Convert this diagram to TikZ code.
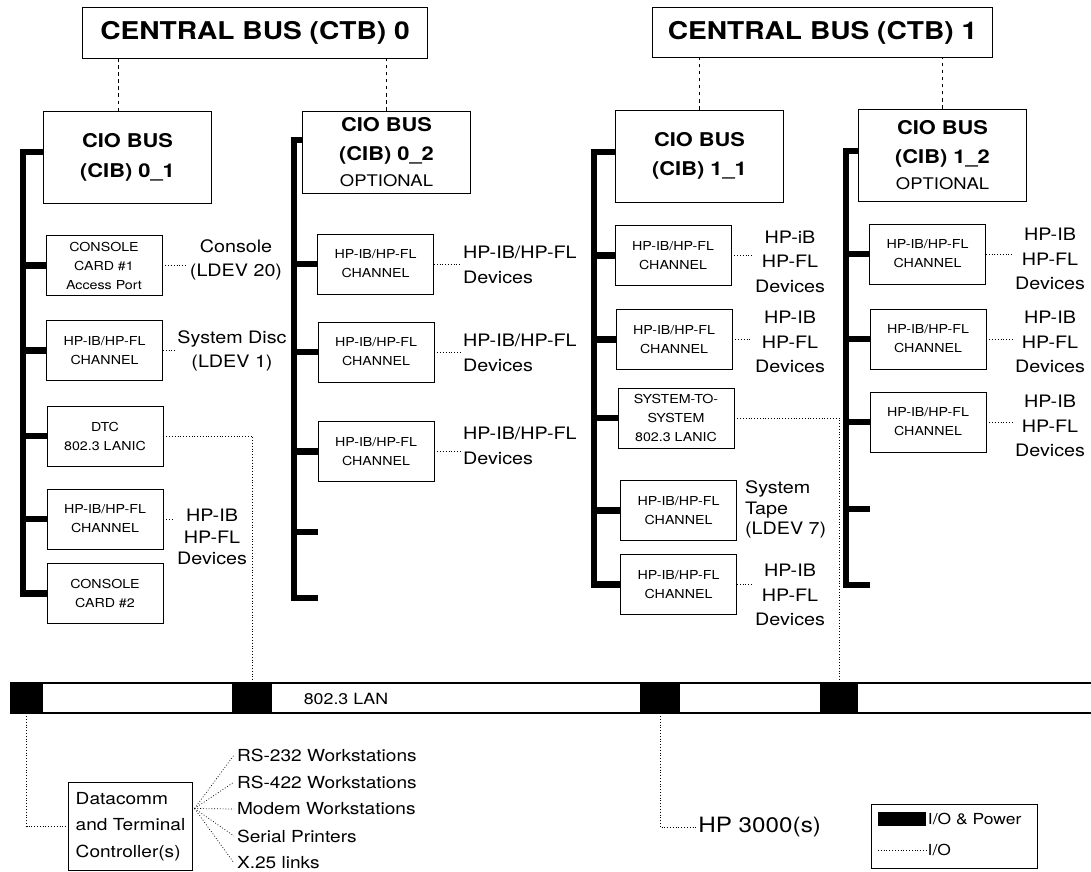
\documentclass[tikz,border=0pt]{standalone}
\usepackage{fontspec}
\setmainfont{TeX Gyre Heros}[FakeStretch=1.15]
\usetikzlibrary{positioning}

\newcommand\optline[1]{{\mdseries\fontsize{11.4}{14}\selectfont #1}}

\begin{document}
\begin{tikzpicture}[
    x=0.025cm, y=-0.025cm,
    ctbbox/.style={draw, line width=0.7pt, minimum width=8.6cm, minimum height=1.25cm, font=\fontsize{17.4}{20}\selectfont\bfseries},
    ciobox/.style={draw, line width=0.6pt, minimum width=4.2cm, minimum height=2.3cm, align=center, font=\fontsize{13.5}{21}\selectfont\bfseries},
    card/.style={draw, line width=0.6pt, minimum width=2.9cm, minimum height=1.5cm, align=center, font=\fontsize{8.8}{13.5}\selectfont},
    lbl/.style={align=center, inner sep=2pt, font=\fontsize{12.2}{17.4}\selectfont},
    bus/.style={line width=4.5pt},
    io/.style={line width=0.5pt, dash pattern=on 0.6pt off 1.4pt},
    link/.style={line width=0.5pt, dash pattern=on 2.5pt off 2.5pt},
    lanblock/.style={fill=black, minimum width=1cm, minimum height=0.75cm, inner sep=0pt}
]
\useasboundingbox (0,0) rectangle (1091,872);

% Central buses
\node[ctbbox] (ctb0) at (255,33) {CENTRAL BUS (CTB) 0};
\node[ctbbox, minimum width=8.475cm] (ctb1) at (822.5,32.5) {CENTRAL BUS (CTB) 1};

% CIO buses
\node[ciobox] (cio01) at (127.5,157.5) {CIO BUS\\(CIB) 0\_1};
\node[ciobox, minimum height=2.05cm] (cio02) at (386.5,152) {CIO BUS\\(CIB) 0\_2\\[-3pt]\optline{OPTIONAL}};
\node[ciobox] (cio11) at (699.5,156) {CIO BUS\\(CIB) 1\_1};
\node[ciobox] (cio12) at (942.5,155) {CIO BUS\\(CIB) 1\_2\\[-3pt]\optline{OPTIONAL}};

\draw[link] (cio01.north -| 118,0) -- (ctb0.south -| 118,0);
\draw[link] (cio02.north) -- (cio02.north |- ctb0.south);
\draw[link] (cio11.north) -- (cio11.north |- ctb1.south);
\draw[link] (cio12.north) -- (cio12.north |- ctb1.south);

% Cards on CIB 0_1
\node[card] (con1) at (104,265.5) {CONSOLE\\CARD \#1\\Access Port};
\node[card] (ch01a) at (104.5,350.5) {HP-IB/HP-FL\\CHANNEL};
\node[card] (dtc) at (105,436) {DTC\\802.3 LANIC};
\node[card] (ch01b) at (105,519) {HP-IB/HP-FL\\CHANNEL};
\node[card] (con2) at (105,593.5) {CONSOLE\\CARD \#2};

% Cards on CIB 0_2
\node[card] (ch02a) at (375.5,264) {HP-IB/HP-FL\\CHANNEL};
\node[card] (ch02b) at (376,352) {HP-IB/HP-FL\\CHANNEL};
\node[card] (ch02c) at (376,451.5) {HP-IB/HP-FL\\CHANNEL};

% Cards on CIB 1_1
\node[card] (ch11a) at (673,255.5) {HP-IB/HP-FL\\CHANNEL};
\node[card] (ch11b) at (674,339.5) {HP-IB/HP-FL\\CHANNEL};
\node[card] (s2s) at (676,418) {SYSTEM-TO-\\SYSTEM\\802.3 LANIC};
\node[card] (tape) at (678.5,510.5) {HP-IB/HP-FL\\CHANNEL};
\node[card] (ch11d) at (678.5,584.5) {HP-IB/HP-FL\\CHANNEL};

% Cards on CIB 1_2
\node[card] (ch12a) at (927.5,254) {HP-IB/HP-FL\\CHANNEL};
\node[card] (ch12b) at (928,339) {HP-IB/HP-FL\\CHANNEL};
\node[card] (ch12c) at (928,422) {HP-IB/HP-FL\\CHANNEL};

% I/O and power buses
\coordinate (b01) at (23,152);
\coordinate (b02) at (294,140);
\coordinate (b11) at (594,152);
\coordinate (b12) at (846,151);
\coordinate (e02a) at (318,532);
\coordinate (e02b) at (318,598);
\coordinate (e12a) at (870,509);
\coordinate (e12b) at (870,585);

\draw[bus] (cio01.west |- b01) -- (b01) |- (con2.west);
\foreach \c in {con1,ch01a,dtc,ch01b} \draw[bus] (b01 |- \c.west) -- (\c.west);
\draw[bus] (cio02.west |- b02) -- (b02) |- (e02b);
\draw[bus] (b02 |- e02a) -- (e02a);
\foreach \c in {ch02a,ch02b,ch02c} \draw[bus] (b02 |- \c.west) -- (\c.west);
\draw[bus] (cio11.west |- b11) -- (b11) |- (ch11d.west);
\foreach \c in {ch11a,ch11b,s2s,tape} \draw[bus] (b11 |- \c.west) -- (\c.west);
\draw[bus] (cio12.west |- b12) -- (b12) |- (e12b);
\draw[bus] (b12 |- e12a) -- (e12a);
\foreach \c in {ch12a,ch12b,ch12c} \draw[bus] (b12 |- \c.west) -- (\c.west);

% Devices
\node[lbl] (lcon) at (236,260) {Console\\(LDEV 20)};
\node[lbl] (ldisc) at (232,351) {System Disc\\(LDEV 1)};
\node[lbl, font=\fontsize{12.2}{15.3}\selectfont] (ldev01) at (212,537) {HP-IB\\HP-FL\\Devices};
\node[lbl, align=left, anchor=west] (ldev02a) at (460,265) {HP-IB/HP-FL\\Devices};
\node[lbl, align=left, anchor=west] (ldev02b) at (460,353) {HP-IB/HP-FL\\Devices};
\node[lbl, align=left, anchor=west] (ldev02c) at (460,446) {HP-IB/HP-FL\\Devices};
\node[lbl] (ldev11a) at (790,261.5) {HP-iB\\HP-FL\\Devices};
\node[lbl] (ldev11b) at (790,342) {HP-IB\\HP-FL\\Devices};
\node[lbl, align=left, anchor=west, font=\fontsize{12.2}{14.6}\selectfont] (ltape) at (742,509.5) {System\\Tape\\(LDEV 7)};
\node[lbl] (ldev11d) at (790,595) {HP-IB\\HP-FL\\Devices};
\node[lbl] (ldev12a) at (1050,259) {HP-IB\\HP-FL\\Devices};
\node[lbl] (ldev12b) at (1050,342) {HP-IB\\HP-FL\\Devices};
\node[lbl] (ldev12c) at (1050,426) {HP-IB\\HP-FL\\Devices};

\draw[io] (con1.east) -- (con1.east -| lcon.west);
\draw[io] (ch01a.east) -- (ch01a.east -| ldisc.west);
\draw[io] (ch01b.east) -- (ch01b.east -| ldev01.west);
\foreach \c/\d in {ch02a/ldev02a,ch02b/ldev02b,ch02c/ldev02c,ch11a/ldev11a,ch11b/ldev11b,ch11d/ldev11d,ch12a/ldev12a,ch12b/ldev12b,ch12c/ldev12c}
  \draw[io] (\c.east) -- (\c.east -| \d.west);

% 802.3 LAN
\draw[line width=0.8pt] (10,683) -- (1091,683) (10,713) -- (1091,713);
\node[lanblock, minimum width=0.825cm] (blk1) at (26.5,698) {};
\node[lanblock] (blk2) at (252,698) {};
\node[lanblock] (blk3) at (660,698) {};
\node[lanblock, minimum width=0.95cm] (blk4) at (839,698) {};
\node[font=\fontsize{11}{13}\selectfont] (lan) at (346,699) {802.3 LAN};

\draw[io] (dtc.east) -| (blk2.north);
\draw[io] (s2s.east) -| (blk4.north);

% Datacomm and HP 3000
\node[draw, line width=0.6pt, align=left, minimum width=3.08cm, minimum height=2.18cm, font=\fontsize{11.8}{18.8}\selectfont] (dcc) at (130.5,826.5) {Datacomm\\and Terminal\\Controller(s)};
\draw[io] (blk1.south) |- (dcc.west);
\coordinate (fan) at ([xshift=0.05cm, yshift=0.45cm]dcc.east);
\foreach \t [count=\i] in {RS-232 Workstations, RS-422 Workstations, Modem Workstations, Serial Printers, X.25 links} {
  \node[lbl, anchor=west, font=\fontsize{11.8}{14}\selectfont] (port\i) at (234,728+27*\i) {\t};
  \draw[io] (fan) -- (port\i.west);
}

\node[anchor=west, inner sep=0pt, font=\fontsize{15}{18}\selectfont] (hp) at (698,827) {HP 3000(s)};
\draw[io] (blk3.south) |- (hp.west);

% Legend
\node[draw, line width=0.6pt, minimum width=4.15cm, minimum height=1.6cm] (legend) at (954,836) {};
\node[fill=black, minimum width=1.2cm, minimum height=0.35cm, inner sep=0pt] (keybar) at (902,819) {};
\node[anchor=west, inner sep=1pt, font=\fontsize{10.8}{12}\selectfont] (keypow) at (keybar.east) {I/O \& Power};
\coordinate (keydot) at (878,850);
\node[anchor=west, inner sep=1pt, font=\fontsize{10.8}{12}\selectfont] (keyio) at (926,850) {I/O};
\draw[io] (keydot) -- (keyio.west);

\end{tikzpicture}
\end{document}
